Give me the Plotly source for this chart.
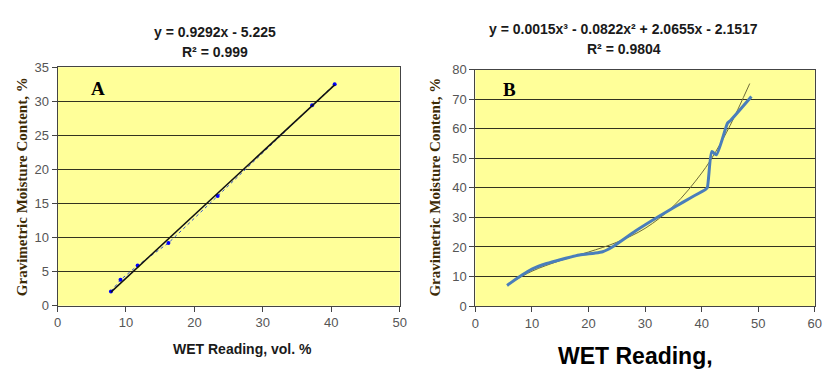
import plotly.graph_objects as go

# ---- Chart A data ----
a_x = [7.8, 9.2, 11.7, 16.2, 23.4, 37.2, 40.5]
a_y = [2.1, 3.8, 5.9, 9.2, 16.1, 29.4, 32.5]
a_trend_x = [7.8, 40.5]
a_trend_y = [2.0, 32.4]

# ---- Chart B data ----
b_x = [5.6, 8.25, 10.0, 12.6, 15.0, 18.4, 21.0, 22.5, 24.2, 28.3, 32.4, 35.3, 38.0, 40.7, 41.0, 41.8, 42.6, 44.6, 45.1, 48.8]
b_y = [7.0, 10.5, 12.5, 14.4, 15.7, 17.3, 17.9, 18.4, 20.0, 25.4, 30.3, 33.6, 36.6, 39.5, 40.1, 52.3, 51.2, 62.0, 62.8, 70.9]
b_trend_x = [6, 10, 15, 20, 25, 30, 35, 40, 42.5, 45, 48.5]
b_trend_y = [7.6, 11.8, 15.4, 18.3, 21.6, 26.3, 33.8, 45.0, 52.3, 61.0, 75.3]

a_title_lines = ["y = 0.9292x - 5.225", "R² = 0.999"]
b_title_lines = ["y = 0.0015x³ - 0.0822x² + 2.0655x - 2.1517", "R² = 0.9804"]
y_title = "Gravimetric Moisture Content, %"

W, H = 829, 371
BG = "#FFFF99"
GRID = "#33331f"
TICKC = "#555555"
YT_COLOR = "#3d2b06"

fig = go.Figure()

fig.add_trace(go.Scatter(x=a_x, y=a_y, mode="lines+markers",
                         line=dict(color="#3355cc", width=1, dash="dot"),
                         marker=dict(color="#0000ff", size=4, symbol="circle"),
                         xaxis="x", yaxis="y", showlegend=False))
fig.add_trace(go.Scatter(x=a_trend_x, y=a_trend_y, mode="lines",
                         line=dict(color="#111111", width=1.5),
                         xaxis="x", yaxis="y", showlegend=False))

fig.add_trace(go.Scatter(x=b_trend_x, y=b_trend_y, mode="lines",
                         line=dict(color="#6d6a3a", width=1, shape="spline"),
                         xaxis="x2", yaxis="y2", showlegend=False))
fig.add_trace(go.Scatter(x=b_x, y=b_y, mode="lines",
                         line=dict(color="#4a7ebb", width=3, shape="spline", smoothing=0.6),
                         xaxis="x2", yaxis="y2", showlegend=False))

def px_x(p):
    return p / W

def px_y(p):
    return (H - p) / H

axis_common = dict(showline=True, linecolor="#444444", linewidth=1, mirror=True,
                   ticks="outside", ticklen=5, tickcolor="#444444",
                   tickfont=dict(family="Arial", size=13, color=TICKC),
                   zeroline=False)

fig.update_layout(
    width=W, height=H,
    margin=dict(l=0, r=0, t=0, b=0),
    paper_bgcolor="white",
    plot_bgcolor=BG,
    xaxis=dict(domain=[px_x(54.3), px_x(401)], range=[0, 50], dtick=10,
               showgrid=False, anchor="y", **axis_common),
    yaxis=dict(domain=[px_y(311.3), px_y(62.7)], range=[0, 35], dtick=5,
               showgrid=True, gridcolor=GRID, gridwidth=1.3, anchor="x", **axis_common),
    xaxis2=dict(domain=[px_x(477.7), px_x(821.7)], range=[0, 60], dtick=10,
                showgrid=False, anchor="y2", **axis_common),
    yaxis2=dict(domain=[px_y(311.7), px_y(65.3)], range=[0, 80], dtick=10,
                showgrid=True, gridcolor=GRID, gridwidth=1.3, anchor="x2", **axis_common),
)

ann = []
# titles (one annotation per line)
for txt, yy in zip(a_title_lines, [26, 47]):
    ann.append(dict(text="<b>" + txt + "</b>", x=px_x(214), y=px_y(yy), xref="paper", yref="paper",
                    showarrow=False, xanchor="center", yanchor="middle",
                    font=dict(family="Arial", size=14, color="#1a1a1a")))
for txt, yy in zip(b_title_lines, [23, 44]):
    ann.append(dict(text="<b>" + txt + "</b>", x=px_x(628), y=px_y(yy), xref="paper", yref="paper",
                    showarrow=False, xanchor="center", yanchor="middle",
                    font=dict(family="Arial", size=14, color="#1a1a1a")))
# y titles
ann.append(dict(text="<b>" + y_title + "</b>", x=px_x(19), y=px_y(187), xref="paper", yref="paper",
                showarrow=False, textangle=-90, xanchor="center", yanchor="middle",
                font=dict(family="Liberation Serif", size=15, color=YT_COLOR)))
ann.append(dict(text="<b>" + y_title + "</b>", x=px_x(437), y=px_y(188), xref="paper", yref="paper",
                showarrow=False, textangle=-90, xanchor="center", yanchor="middle",
                font=dict(family="Liberation Serif", size=15, color=YT_COLOR)))
# x titles
ann.append(dict(text="<b>WET Reading, vol. %</b>", x=px_x(242), y=px_y(356), xref="paper", yref="paper",
                showarrow=False, xanchor="center", yanchor="middle",
                font=dict(family="Arial", size=14, color="#1a1a1a")))
ann.append(dict(text="<b>WET Reading,</b>", x=px_x(640), y=px_y(364), xref="paper", yref="paper",
                showarrow=False, xanchor="center", yanchor="middle",
                font=dict(family="Arial", size=23, color="#000000")))
# panel letters
ann.append(dict(text="<b>A</b>", x=px_x(95), y=px_y(85), xref="paper", yref="paper",
                showarrow=False, xanchor="center", yanchor="middle",
                font=dict(family="Liberation Serif", size=19, color="#000000")))
ann.append(dict(text="<b>B</b>", x=px_x(512), y=px_y(86), xref="paper", yref="paper",
                showarrow=False, xanchor="center", yanchor="middle",
                font=dict(family="Liberation Serif", size=19, color="#000000")))
fig.update_layout(annotations=ann)

fig.write_html("out.html")
